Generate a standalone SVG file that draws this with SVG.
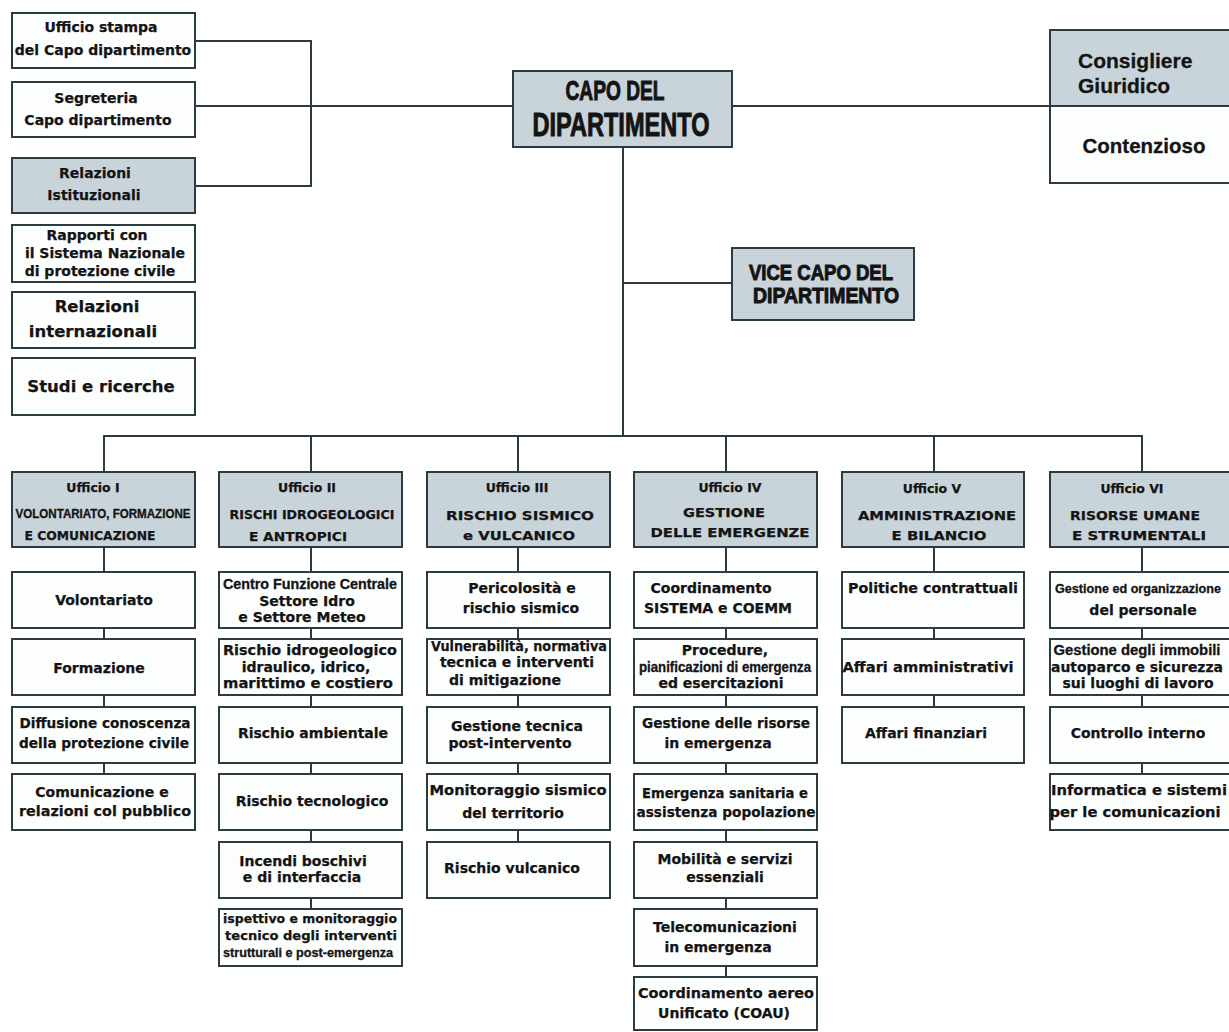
<svg xmlns="http://www.w3.org/2000/svg" width="1229" height="1032" viewBox="0 0 1229 1032">
<style>
.box{fill:#fcfdfd;stroke:#2b3b42;stroke-width:2}
.gray{fill:#c9d4da;stroke:#2b3b42;stroke-width:2}
.t{font-family:"DejaVu Sans","Liberation Sans",sans-serif;font-weight:bold;font-size:14px;text-anchor:middle;fill:#141414;stroke:#141414;stroke-width:0.25}
.h{font-size:12.5px}
.n{font-family:"Liberation Sans",Arial,sans-serif;font-weight:bold;text-anchor:middle;fill:#141414;stroke:#141414;stroke-width:0.3}
.big{stroke-width:1}
.c{stroke:#2b3b42;stroke-width:2;fill:none}
</style>
<rect width="1229" height="1032" fill="#ffffff"/>
<g id="connectors" class="c">
<path d="M195 41H311V186H195"/>
<path d="M195 106H513"/>
<path d="M732 106H1050"/>
<path d="M623 147V436"/>
<path d="M623 283H732"/>
<path d="M104 472V436H1142V472"/>
<path d="M311 436V472M518 436V472M726 436V472M934 436V472"/>
<path d="M104 547V572M104 628V639M104 695V707M104 763V774"/>
<path d="M311 547V572M311 628V639M311 695V707M311 763V774M311 830V842M311 898V909"/>
<path d="M518 547V572M518 628V639M518 695V707M518 763V774M518 830V842"/>
<path d="M726 547V572M726 628V639M726 695V707M726 763V774M726 830V842M726 898V909M726 966V977"/>
<path d="M934 547V572M934 628V639M934 695V707"/>
<path d="M1142 547V572M1142 628V639M1142 695V707M1142 763V774"/>
</g>
<g id="ufficio-stampa"><rect class="box" x="12" y="13" width="183" height="55"/><text class="t" x="101" y="32">Ufficio stampa</text><text class="t" x="103" y="55">del Capo dipartimento</text></g>
<g id="segreteria"><rect class="box" x="12" y="82" width="183" height="55"/><text class="t" x="96" y="103">Segreteria</text><text class="t" x="98" y="125">Capo dipartimento</text></g>
<g id="relazioni-istituzionali"><rect class="gray" x="12" y="158" width="183" height="55"/><text class="t" x="95" y="178">Relazioni</text><text class="t" x="94" y="200">Istituzionali</text></g>
<g id="rapporti"><rect class="box" x="12" y="225" width="183" height="57"/><text class="t" x="97" y="240">Rapporti con</text><text class="t" x="105" y="258">il Sistema Nazionale</text><text class="t" x="100" y="276">di protezione civile</text></g>
<g id="relazioni-internazionali"><rect class="box" x="12" y="292" width="183" height="56"/><text class="t" x="97" y="312" style="font-size:16.5px">Relazioni</text><text class="t" x="93" y="337" style="font-size:16.5px">internazionali</text></g>
<g id="studi"><rect class="box" x="12" y="358" width="183" height="57"/><text class="t" x="101" y="392" style="font-size:16.5px">Studi e ricerche</text></g>
<g id="capo"><rect class="gray" x="513" y="71" width="219" height="76"/><text class="n big" x="615" y="100" style="font-size:28px" textLength="99" lengthAdjust="spacingAndGlyphs">CAPO DEL</text><text class="n big" x="621" y="136" style="font-size:33px" textLength="177" lengthAdjust="spacingAndGlyphs">DIPARTIMENTO</text></g>
<g id="vice-capo"><rect class="gray" x="732" y="248" width="182" height="72"/><text class="n big" x="821" y="280" style="font-size:22px" textLength="144" lengthAdjust="spacingAndGlyphs">VICE  CAPO DEL</text><text class="n big" x="826" y="303" style="font-size:22px" textLength="146" lengthAdjust="spacingAndGlyphs">DIPARTIMENTO</text></g>
<g id="consigliere"><rect class="gray" x="1050" y="30" width="185" height="76"/><rect class="box" x="1050" y="106" width="185" height="77"/><text class="n" x="1078" y="68" style="font-size:21px;text-anchor:start">Consigliere</text><text class="n" x="1078" y="93" style="font-size:21px;text-anchor:start">Giuridico</text><text class="n" x="1144" y="153" style="font-size:20.5px">Contenzioso</text></g>
<g id="ufficio-1"><rect class="gray" x="12" y="472" width="183" height="75"/><text class="t h" x="93" y="492">Ufficio I</text><text class="n" x="103" y="518" style="font-size:12px" textLength="175" lengthAdjust="spacingAndGlyphs">VOLONTARIATO, FORMAZIONE</text><text class="t h" x="90" y="540" textLength="131" lengthAdjust="spacingAndGlyphs">E COMUNICAZIONE</text></g>
<g id="ufficio-2"><rect class="gray" x="219" y="472" width="183" height="75"/><text class="t h" x="307" y="492">Ufficio II</text><text class="t h" x="312" y="519" textLength="165" lengthAdjust="spacingAndGlyphs">RISCHI IDROGEOLOGICI</text><text class="t h" x="298" y="541" textLength="98" lengthAdjust="spacingAndGlyphs">E ANTROPICI</text></g>
<g id="ufficio-3"><rect class="gray" x="427" y="472" width="183" height="75"/><text class="t h" x="517" y="492">Ufficio III</text><text class="t h" x="520" y="520" textLength="148" lengthAdjust="spacingAndGlyphs">RISCHIO  SISMICO</text><text class="t h" x="519" y="540" textLength="112" lengthAdjust="spacingAndGlyphs">e VULCANICO</text></g>
<g id="ufficio-4"><rect class="gray" x="634" y="472" width="183" height="75"/><text class="t h" x="730" y="492">Ufficio  IV</text><text class="t h" x="724" y="517" textLength="82" lengthAdjust="spacingAndGlyphs">GESTIONE</text><text class="t h" x="730" y="537" textLength="159" lengthAdjust="spacingAndGlyphs">DELLE EMERGENZE</text></g>
<g id="ufficio-5"><rect class="gray" x="842" y="472" width="182" height="75"/><text class="t h" x="932" y="493">Ufficio V</text><text class="t h" x="937" y="520" textLength="158" lengthAdjust="spacingAndGlyphs">AMMINISTRAZIONE</text><text class="t h" x="939" y="540" textLength="95" lengthAdjust="spacingAndGlyphs">E BILANCIO</text></g>
<g id="ufficio-6"><rect class="gray" x="1050" y="472" width="185" height="75"/><text class="t h" x="1132" y="493">Ufficio VI</text><text class="t h" x="1135" y="520" textLength="130" lengthAdjust="spacingAndGlyphs">RISORSE UMANE</text><text class="t h" x="1139" y="540" textLength="134" lengthAdjust="spacingAndGlyphs">E STRUMENTALI</text></g>
<g id="volontariato"><rect class="box" x="12" y="572" width="183" height="56"/><text class="t" x="104" y="605">Volontariato</text></g>
<g id="formazione"><rect class="box" x="12" y="639" width="183" height="56"/><text class="t" x="99" y="673">Formazione</text></g>
<g id="diffusione"><rect class="box" x="12" y="707" width="183" height="56"/><text class="t" x="105" y="728" textLength="171" lengthAdjust="spacingAndGlyphs">Diffusione conoscenza</text><text class="t" x="104" y="748" textLength="170" lengthAdjust="spacingAndGlyphs">della protezione civile</text></g>
<g id="comunicazione"><rect class="box" x="12" y="774" width="183" height="56"/><text class="t" x="102" y="797">Comunicazione e</text><text class="t" x="105" y="816" textLength="172" lengthAdjust="spacingAndGlyphs">relazioni col pubblico</text></g>
<g id="centro-funzione"><rect class="box" x="219" y="572" width="183" height="56"/><text class="n" x="310" y="589" style="font-size:14px" textLength="174" lengthAdjust="spacingAndGlyphs">Centro Funzione Centrale</text><text class="t" x="307" y="606">Settore Idro</text><text class="t" x="302" y="622">e Settore Meteo</text></g>
<g id="rischio-idrogeologico"><rect class="box" x="219" y="639" width="183" height="56"/><text class="t" x="310" y="655" textLength="174" lengthAdjust="spacingAndGlyphs">Rischio idrogeologico</text><text class="t" x="306" y="672">idraulico, idrico,</text><text class="t" x="308" y="688" textLength="170" lengthAdjust="spacingAndGlyphs">marittimo e costiero</text></g>
<g id="rischio-ambientale"><rect class="box" x="219" y="707" width="183" height="56"/><text class="t" x="313" y="738">Rischio ambientale</text></g>
<g id="rischio-tecnologico"><rect class="box" x="219" y="774" width="183" height="56"/><text class="t" x="312" y="806">Rischio tecnologico</text></g>
<g id="incendi"><rect class="box" x="219" y="842" width="183" height="56"/><text class="t" x="303" y="866">Incendi boschivi</text><text class="t" x="302" y="882">e di interfaccia</text></g>
<g id="ispettivo"><rect class="box" x="219" y="909" width="183" height="57"/><text class="t" x="310" y="923" style="font-size:13px" textLength="174" lengthAdjust="spacingAndGlyphs">ispettivo e monitoraggio</text><text class="t" x="311" y="940" style="font-size:13px" textLength="172" lengthAdjust="spacingAndGlyphs">tecnico degli interventi</text><text class="n" x="308" y="957" style="font-size:13px" textLength="170" lengthAdjust="spacingAndGlyphs">strutturali e post-emergenza</text></g>
<g id="pericolosita"><rect class="box" x="427" y="572" width="183" height="56"/><text class="t" x="522" y="593">Pericolosità e</text><text class="t" x="521" y="613">rischio sismico</text></g>
<g id="vulnerabilita"><rect class="box" x="427" y="639" width="183" height="56"/><text class="t" x="519" y="651" textLength="176" lengthAdjust="spacingAndGlyphs">Vulnerabilità, normativa</text><text class="t" x="517" y="667">tecnica e interventi</text><text class="t" x="505" y="685">di mitigazione</text></g>
<g id="gestione-tecnica"><rect class="box" x="427" y="707" width="183" height="56"/><text class="t" x="517" y="731">Gestione tecnica</text><text class="t" x="510" y="748">post-intervento</text></g>
<g id="monitoraggio"><rect class="box" x="427" y="774" width="183" height="56"/><text class="t" x="518" y="795" textLength="177" lengthAdjust="spacingAndGlyphs">Monitoraggio sismico</text><text class="t" x="513" y="818">del territorio</text></g>
<g id="rischio-vulcanico"><rect class="box" x="427" y="842" width="183" height="56"/><text class="t" x="512" y="873">Rischio vulcanico</text></g>
<g id="coordinamento"><rect class="box" x="634" y="572" width="183" height="56"/><text class="t" x="711" y="593">Coordinamento</text><text class="t" x="718" y="613">SISTEMA e COEMM</text></g>
<g id="procedure"><rect class="box" x="634" y="639" width="183" height="56"/><text class="t" x="725" y="655">Procedure,</text><text class="n" x="725" y="672" style="font-size:14px" textLength="172" lengthAdjust="spacingAndGlyphs">pianificazioni di emergenza</text><text class="t" x="721" y="688">ed esercitazioni</text></g>
<g id="gestione-risorse"><rect class="box" x="634" y="707" width="183" height="56"/><text class="t" x="726" y="728" textLength="168" lengthAdjust="spacingAndGlyphs">Gestione delle risorse</text><text class="t" x="718" y="748">in emergenza</text></g>
<g id="emergenza-sanitaria"><rect class="box" x="634" y="774" width="183" height="56"/><text class="t" x="725" y="798" textLength="166" lengthAdjust="spacingAndGlyphs">Emergenza sanitaria e</text><text class="t" x="726" y="817" textLength="179" lengthAdjust="spacingAndGlyphs">assistenza popolazione</text></g>
<g id="mobilita"><rect class="box" x="634" y="842" width="183" height="56"/><text class="t" x="725" y="864">Mobilità e servizi</text><text class="t" x="725" y="882">essenziali</text></g>
<g id="telecomunicazioni"><rect class="box" x="634" y="909" width="183" height="57"/><text class="t" x="725" y="932">Telecomunicazioni</text><text class="t" x="718" y="952">in emergenza</text></g>
<g id="coordinamento-aereo"><rect class="box" x="634" y="977" width="183" height="53"/><text class="t" x="726" y="998" textLength="176" lengthAdjust="spacingAndGlyphs">Coordinamento aereo</text><text class="t" x="724" y="1018">Unificato (COAU)</text></g>
<g id="politiche"><rect class="box" x="842" y="572" width="182" height="56"/><text class="t" x="933" y="593" textLength="170" lengthAdjust="spacingAndGlyphs">Politiche contrattuali</text></g>
<g id="affari-amministrativi"><rect class="box" x="842" y="639" width="182" height="56"/><text class="t" x="928" y="672" textLength="171" lengthAdjust="spacingAndGlyphs">Affari amministrativi</text></g>
<g id="affari-finanziari"><rect class="box" x="842" y="707" width="182" height="56"/><text class="t" x="926" y="738">Affari finanziari</text></g>
<g id="gestione-personale"><rect class="box" x="1050" y="572" width="185" height="56"/><text class="n" x="1138" y="593" style="font-size:13.2px" textLength="166" lengthAdjust="spacingAndGlyphs">Gestione ed organizzazione</text><text class="t" x="1143" y="615">del personale</text></g>
<g id="gestione-immobili"><rect class="box" x="1050" y="639" width="185" height="56"/><text class="n" x="1137" y="655" style="font-size:14.5px" textLength="167" lengthAdjust="spacingAndGlyphs">Gestione degli immobili</text><text class="t" x="1137" y="672" textLength="172" lengthAdjust="spacingAndGlyphs">autoparco e sicurezza</text><text class="t" x="1138" y="688">sui luoghi di lavoro</text></g>
<g id="controllo-interno"><rect class="box" x="1050" y="707" width="185" height="56"/><text class="t" x="1138" y="738">Controllo interno</text></g>
<g id="informatica"><rect class="box" x="1050" y="774" width="185" height="56"/><text class="t" x="1139" y="795" textLength="176" lengthAdjust="spacingAndGlyphs">Informatica e sistemi</text><text class="t" x="1135" y="817" textLength="171" lengthAdjust="spacingAndGlyphs">per le comunicazioni</text></g>
</svg>
